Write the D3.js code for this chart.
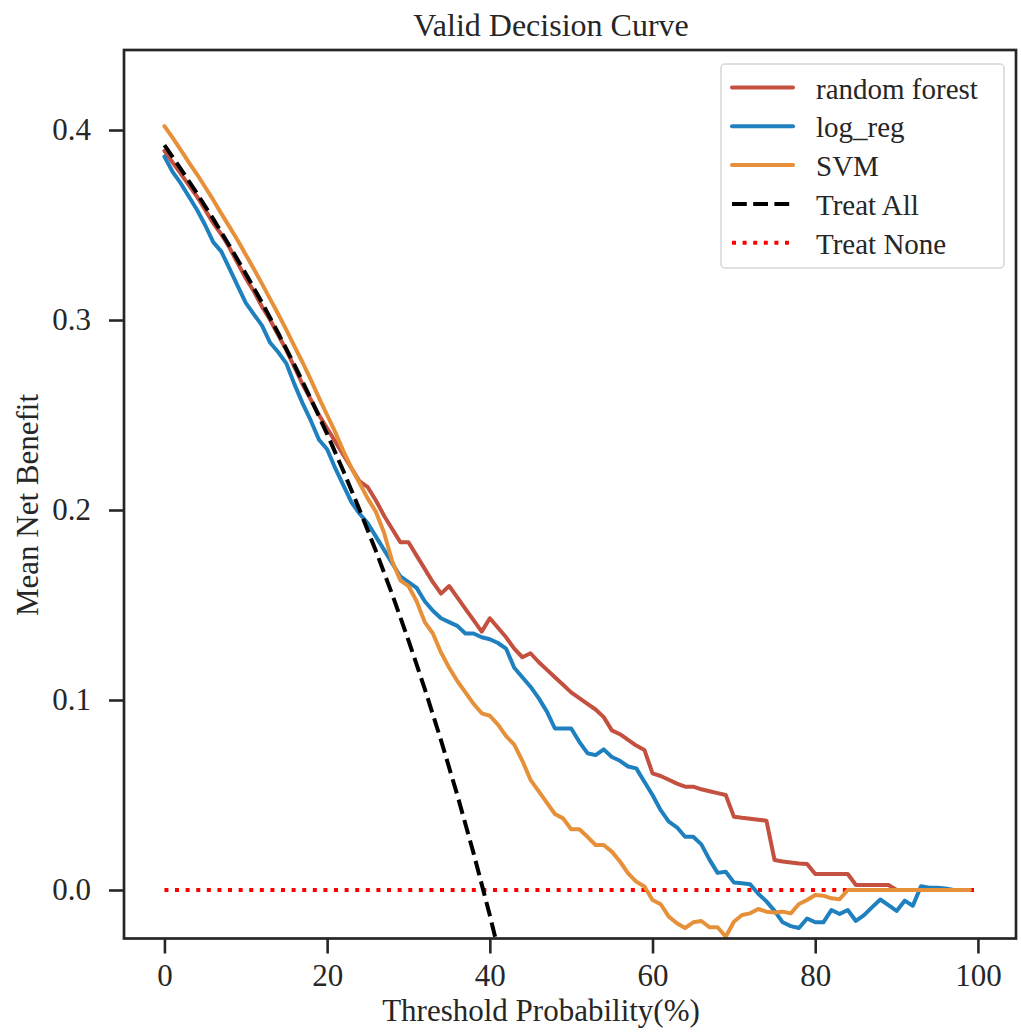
<!DOCTYPE html>
<html>
<head>
<meta charset="utf-8">
<script src="https://cdn.jsdelivr.net/npm/d3@7"></script>
<style>
  body { margin: 0; background: #fff; }
  text { font-family: "Liberation Serif", "Times New Roman", serif; fill: #262626; }
</style>
</head>
<body>
<svg id="chart" width="1021" height="1032"></svg>
<script>
// Threshold grid (percent) used by the three models
const thresholds = d3.range(0, 100);

// Mean net benefit per threshold
const rfValues = [
  0.389, 0.383, 0.377, 0.371, 0.365, 0.358, 0.351, 0.345, 0.338, 0.330,
  0.322, 0.315, 0.307, 0.300, 0.292, 0.284, 0.275, 0.266, 0.258, 0.250,
  0.243, 0.236, 0.229, 0.222, 0.215, 0.212, 0.205, 0.197, 0.190, 0.183,
  0.183, 0.176, 0.169, 0.162, 0.156, 0.160, 0.154, 0.148, 0.142, 0.136,
  0.143, 0.138, 0.133, 0.127, 0.1225, 0.1246, 0.120, 0.116, 0.112, 0.108,
  0.104, 0.101, 0.098, 0.095, 0.091, 0.084, 0.082, 0.079, 0.076, 0.0737,
  0.0614, 0.060, 0.058, 0.056, 0.0544, 0.0544, 0.053, 0.052, 0.051, 0.050,
  0.0386, 0.038, 0.0375, 0.037, 0.0365, 0.0158, 0.015, 0.0145, 0.014, 0.0137,
  0.0084, 0.0084, 0.0084, 0.0084, 0.0084, 0.0026, 0.0026, 0.0026, 0.0026, 0.0026,
  0, 0, 0, 0, 0, 0, 0, 0, 0, 0
];

const lrValues = [
  0.386, 0.378, 0.372, 0.365, 0.358, 0.350, 0.341, 0.336, 0.327, 0.318,
  0.309, 0.303, 0.297, 0.288, 0.283, 0.277, 0.266, 0.256, 0.247, 0.237,
  0.232, 0.222, 0.213, 0.204, 0.198, 0.193, 0.186, 0.179, 0.172, 0.165,
  0.162, 0.159, 0.152, 0.147, 0.143, 0.141, 0.139, 0.135, 0.135, 0.133,
  0.132, 0.130, 0.127, 0.117, 0.112, 0.107, 0.101, 0.094, 0.085, 0.085,
  0.085, 0.078, 0.072, 0.071, 0.074, 0.070, 0.068, 0.065, 0.064, 0.057,
  0.050, 0.042, 0.036, 0.033, 0.028, 0.028, 0.024, 0.016, 0.009, 0.0096,
  0.004, 0.0035, 0.003, -0.002, -0.006, -0.011, -0.017, -0.019, -0.020, -0.015,
  -0.017, -0.017, -0.0105, -0.0126, -0.0105, -0.0163, -0.0132, -0.009, -0.005, -0.008,
  -0.011, -0.0056, -0.0083, 0.002, 0.0012, 0.0012, 0.0008, 0, 0, 0
];

const svmValues = [
  0.402, 0.396, 0.3896, 0.383, 0.3767, 0.370, 0.3632, 0.356, 0.349, 0.342,
  0.3344, 0.3268, 0.319, 0.311, 0.303, 0.2947, 0.286, 0.2775, 0.2685, 0.259,
  0.250, 0.241, 0.231, 0.222, 0.214, 0.206, 0.199, 0.188, 0.173, 0.163,
  0.160, 0.152, 0.141, 0.135, 0.125, 0.117, 0.110, 0.104, 0.098, 0.093,
  0.0917, 0.087, 0.081, 0.0765, 0.068, 0.058, 0.052, 0.046, 0.040, 0.0377,
  0.032, 0.032, 0.028, 0.0237, 0.0237, 0.0202, 0.015, 0.0088, 0.0044, 0.0018,
  -0.0053, -0.0075, -0.014, -0.0175, -0.020, -0.017, -0.0163, -0.0196, -0.0196, -0.0246,
  -0.0167, -0.0132, -0.0123, -0.010, -0.0114, -0.0119, -0.0114, -0.0123, -0.0074, -0.0053,
  -0.0026, -0.003, -0.0044, -0.0049, 0, 0, 0, 0, 0, 0,
  0, 0, 0, 0, 0, 0, 0, 0, 0, 0
];

// Treat All reference curve
const treatAllX = [0, 2, 4, 6, 8, 10, 12, 14, 16, 18, 20, 22, 24, 26, 28, 30, 32, 34, 36, 38, 40, 42];
const treatAllValues = [
  0.392, 0.3796, 0.3667, 0.3532, 0.3391, 0.3244, 0.3091, 0.2930, 0.2762, 0.2585,
  0.2400, 0.2205, 0.2000, 0.1784, 0.1556, 0.1314, 0.1059, 0.0788, 0.0500, 0.0194,
  -0.0133, -0.0483
];

// Treat None reference line
const treatNoneX = [0, 100];
const treatNoneValues = [0, 0];

const xTicks = [0, 20, 40, 60, 80, 100];
const yTicks = [0.0, 0.1, 0.2, 0.3, 0.4];

const legendLabels = ['random forest', 'log_reg', 'SVM', 'Treat All', 'Treat None'];

// Layout
const plot = { left: 124, right: 1016, top: 50, bottom: 938.5 };
const ink = '#262626';
const font = 31;

const svg = d3.select('#chart');

const x = d3.scaleLinear()
  .domain([-4.97, 104.68])
  .range([plot.left, plot.right]);

const y = d3.scaleLinear()
  .domain([-0.02553, 0.44211])
  .range([plot.bottom, plot.top]);

// Clip so curves stop at the frame
svg.append('clipPath')
  .attr('id', 'plot-clip')
  .append('rect')
  .attr('x', plot.left)
  .attr('y', plot.top)
  .attr('width', plot.right - plot.left)
  .attr('height', plot.bottom - plot.top);

const series = [
  { key: 'none', xs: treatNoneX, ys: treatNoneValues, color: '#ff0000', dash: '4,6.6' },
  { key: 'rf', xs: thresholds, ys: rfValues, color: '#c4503f', dash: null },
  { key: 'lr', xs: thresholds, ys: lrValues, color: '#1f80c0', dash: null },
  { key: 'svm', xs: thresholds, ys: svmValues, color: '#e6913a', dash: null },
  { key: 'all', xs: treatAllX, ys: treatAllValues, color: '#000000', dash: '14.8,6.4' }
];

const line = d3.line()
  .x(d => x(d[0]))
  .y(d => y(d[1]));

const lines = svg.append('g').attr('clip-path', 'url(#plot-clip)');

series.forEach(s => {
  lines.append('path')
    .datum(s.xs.map((v, i) => [v, s.ys[i]]))
    .attr('d', line)
    .attr('fill', 'none')
    .attr('stroke', s.color)
    .attr('stroke-width', 4)
    .attr('stroke-linejoin', 'round')
    .attr('stroke-linecap', s.dash ? 'butt' : 'round')
    .attr('stroke-dasharray', s.dash);
});

// Axes
const xAxis = d3.axisBottom(x)
  .tickValues(xTicks)
  .tickSize(15)
  .tickPadding(10)
  .tickFormat(d3.format('d'));

const yAxis = d3.axisLeft(y)
  .tickValues(yTicks)
  .tickSize(15)
  .tickPadding(18)
  .tickFormat(d3.format('.1f'));

const gx = svg.append('g')
  .attr('transform', `translate(0,${plot.bottom})`)
  .call(xAxis);

const gy = svg.append('g')
  .attr('transform', `translate(${plot.left},0)`)
  .call(yAxis);

[gx, gy].forEach(g => {
  g.select('.domain').remove();
  g.selectAll('.tick line')
    .attr('stroke', ink)
    .attr('stroke-width', 2.6);
  g.selectAll('.tick text')
    .attr('font-size', font)
    .attr('fill', ink)
    .style('font-family', '"Liberation Serif", "Times New Roman", serif');
});

// Frame
svg.append('rect')
  .attr('x', plot.left)
  .attr('y', plot.top)
  .attr('width', plot.right - plot.left)
  .attr('height', plot.bottom - plot.top)
  .attr('fill', 'none')
  .attr('stroke', ink)
  .attr('stroke-width', 2.7);

// Title and axis labels
svg.append('text')
  .attr('x', 551)
  .attr('y', 36)
  .attr('text-anchor', 'middle')
  .attr('font-size', font + 1)
  .text('Valid Decision Curve');

svg.append('text')
  .attr('x', 541)
  .attr('y', 1021)
  .attr('text-anchor', 'middle')
  .attr('font-size', font)
  .text('Threshold Probability(%)');

svg.append('text')
  .attr('transform', 'translate(38,505) rotate(-90)')
  .attr('text-anchor', 'middle')
  .attr('font-size', font)
  .text('Mean Net Benefit');

// Legend
const legend = svg.append('g').attr('transform', 'translate(721,64)');

legend.append('rect')
  .attr('width', 283)
  .attr('height', 204)
  .attr('rx', 4)
  .attr('fill', '#fff')
  .attr('fill-opacity', 0.8)
  .attr('stroke', '#d6d6d6')
  .attr('stroke-width', 1.5);

const legendOrder = ['rf', 'lr', 'svm', 'all', 'none'];

legendOrder.forEach((key, i) => {
  const s = series.find(d => d.key === key);
  const rowY = 23.5 + i * 38.8;
  legend.append('line')
    .attr('x1', 11)
    .attr('x2', 72)
    .attr('y1', rowY)
    .attr('y2', rowY)
    .attr('stroke', s.color)
    .attr('stroke-width', 4)
    .attr('stroke-linecap', s.dash ? 'butt' : 'round')
    .attr('stroke-dasharray', s.dash);
  legend.append('text')
    .attr('x', 95)
    .attr('y', rowY + 11)
    .attr('font-size', 29)
    .text(legendLabels[i]);
});
</script>
</body>
</html>
